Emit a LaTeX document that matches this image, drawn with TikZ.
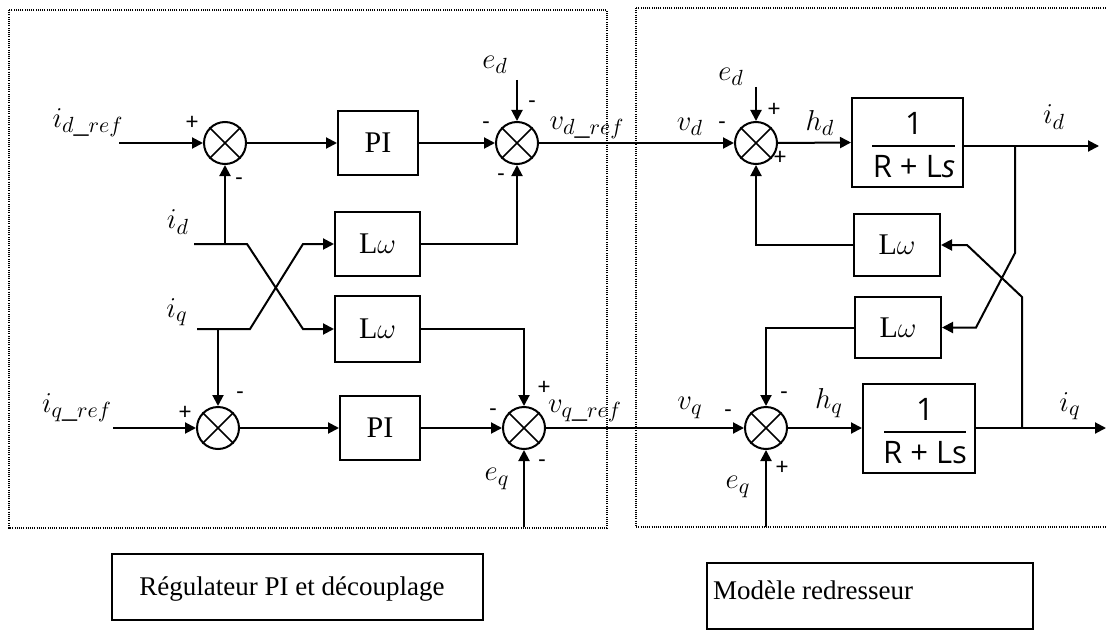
\documentclass[tikz,border=0pt]{standalone}
\usepackage{fontspec}
\setmainfont{Liberation Serif}
\newfontfamily\signfont{Carlito}
\newfontfamily\tffont{Open Sans}
\usetikzlibrary{arrows.meta,calc}
\begin{document}
\begin{tikzpicture}[x=0.5pt,y=-0.5pt,
  line width=1pt,
  >={Triangle[length=5.5pt,width=5.5pt]},
  sumj/.style={circle,draw,line width=1pt,minimum size=21pt,inner sep=0pt},
  blk/.style={draw,line width=1pt,inner sep=0pt,font=\fontsize{15}{17}\selectfont},
  tfbox/.style={draw,line width=1pt,inner sep=0pt,minimum width=56pt,minimum height=44.5pt},
  tftxt/.style={inner sep=0pt,font=\tffont\fontsize{15.5}{17}\selectfont},
  lbl/.style={inner sep=0pt,font=\fontsize{15}{17}\selectfont},
  sgn/.style={inner sep=0pt,font=\signfont\fontsize{12}{13}\selectfont},
  frame/.style={line width=1.1pt,dash pattern=on 0.55pt off 0.55pt},
  capbox/.style={draw,line width=1pt,inner sep=0pt,minimum height=33pt},
  captxt/.style={inner sep=0pt,font=\fontsize{13.5}{16}\selectfont}
]
\useasboundingbox (0,0) rectangle (1107,631);

% dotted frames
\draw[frame] (9,10) rectangle (607,528);
\draw[frame] (636,8) rectangle (1112,527);

% summing junctions
\node[sumj] (s1) at (225,143) {};
\node[sumj] (s2) at (517,143) {};
\node[sumj] (s3) at (756,143) {};
\node[sumj] (s4) at (766,428) {};
\node[sumj] (s5) at (524,428) {};
\node[sumj] (s6) at (218,428) {};
\foreach \n in {s1,s2,s3,s4,s5,s6}{
  \draw[line width=0.8pt] (\n.45) -- (\n.225) (\n.135) -- (\n.315);
}

% blocks
\node[blk,minimum width=40pt,minimum height=31.5pt] (pi1) at (378,143) {PI};
\node[blk,minimum width=40pt,minimum height=32pt] (pi2) at (380,428) {PI};
\node[blk,minimum width=42.5pt,minimum height=32pt] (lw1) at (377.5,244) {L$\omega$};
\node[blk,minimum width=42.5pt,minimum height=33pt] (lw2) at (377.5,329) {L$\omega$};
\node[blk,minimum width=43pt,minimum height=31pt] (lw3) at (897,245) {L$\omega$};
\node[blk,minimum width=43pt,minimum height=30.5pt] (lw4) at (898,327.5) {L$\omega$};

\node[tfbox,minimum width=55.5pt] (tf1) at (907.5,142.5) {};
\node[tftxt] (tf1n) at (914,123) {1};
\draw (872,146) -- (955,146);
\node[tftxt] (tf1d) at (914,167) {R + L\textit{s}};
\node[tfbox] (tf2) at (919,428) {};
\node[tftxt] (tf2n) at (925,409) {1};
\draw (884,432) -- (966,432);
\node[tftxt] (tf2d) at (925,453) {R + Ls};

% free ends
\coordinate (idref) at (119,143);
\coordinate (iqref) at (113,428);
\coordinate (idin) at (194,244);
\coordinate (iqin) at (197,329);
\coordinate (ed1) at (517,80);
\coordinate (eq1) at (524,527);
\coordinate (ed2) at (756,87);
\coordinate (eq2) at (766,527);
\coordinate (idout) at (1099,146);
\coordinate (iqout) at (1106,428);
\coordinate (jd) at (1015,146);
\coordinate (jq) at (1022,428);

% connectors (left)
\draw[->] (idref) -- (s1.west);
\draw[->] (s1.east) -- (pi1.west);
\draw[->] (pi1.east) -- (s2.west);
\draw[->] (ed1) -- (s2.north);
\draw[->] (lw1.east) -| (s2.south);
\draw[->] (idin) -- (247,244) -- (303,329) -- (lw2.west);
\draw[->] (iqin) -- (250,329) -- (303,244) -- (lw1.west);
\draw[->] (s1.south |- idin) -- (s1.south);
\draw[->] (s6.north |- iqin) -- (s6.north);
\draw[->] (iqref) -- (s6.west);
\draw[->] (s6.east) -- (pi2.west);
\draw[->] (pi2.east) -- (s5.west);
\draw[->] (lw2.east) -| (s5.north);
\draw[->] (eq1) -- (s5.south);

% connectors (middle / right)
\draw[->] (s2.east) -- (s3.west);
\draw[->] (s5.east) -- (s4.west);
\draw[->] (ed2) -- (s3.north);
\draw[->] (s3.east) -- (tf1.west);
\draw[->] ($(tf1.east)+(0,3.5)$) -- (idout);
\draw[->] (jd) -- (1015,253) -- (976,327.5) -- (lw4.east);
\draw[->] (jq) -- (1022,297) -- (967,245) -- (lw3.east);
\draw[->] (lw3.west) -| (s3.south);
\draw[->] (lw4.west) -| (s4.north);
\draw[->] (eq2) -- (s4.south);
\draw[->] (s4.east) -- (tf2.west);
\draw[->] (tf2.east) -- (iqout);

% signal labels
\node[lbl] (l1) at (88,123) {$i_{d\_ref}$};
\node[lbl] (l2) at (178,222) {$i_d$};
\node[lbl] (l3) at (177,312) {$i_q$};
\node[lbl] (l4) at (77,408) {$i_{q\_ref}$};
\node[lbl] (l5) at (495,65) {$e_d$};
\node[lbl] (l6) at (731,77) {$e_d$};
\node[lbl] (l7) at (587,128) {$v_{d\_ref}$};
\node[lbl] (l8) at (690,127) {$v_d$};
\node[lbl] (l9) at (820,123) {$h_d$};
\node[lbl] (l10) at (1054,117) {$i_d$};
\node[lbl] (l11) at (585,411) {$v_{q\_ref}$};
\node[lbl] (l12) at (690,408) {$v_q$};
\node[lbl] (l13) at (829,403) {$h_q$};
\node[lbl] (l14) at (1070,406) {$i_q$};
\node[lbl] (l15) at (497,479) {$e_q$};
\node[lbl] (l16) at (738,487) {$e_q$};

% signs
\node[sgn] (g1) at (192,123) {+};
\node[sgn] (g2) at (239,182) {-};
\node[sgn] (g3) at (532,105) {-};
\node[sgn] (g4) at (486,126) {-};
\node[sgn] (g5) at (501,178) {-};
\node[sgn] (g6) at (722,126) {-};
\node[sgn] (g7) at (774,110) {+};
\node[sgn] (g8) at (780,158) {+};
\node[sgn] (g9) at (784,396) {-};
\node[sgn] (g10) at (728,414) {-};
\node[sgn] (g11) at (782,468) {+};
\node[sgn] (g12) at (544,388) {+};
\node[sgn] (g13) at (493,413) {-};
\node[sgn] (g14) at (542,464) {-};
\node[sgn] (g15) at (240,396) {-};
\node[sgn] (g16) at (185,413) {+};

% captions
\node[capbox,minimum width=185.5pt] (cap1) at (297.5,587) {};
\node[captxt] (cap1t) at (292,589) {Régulateur PI et découplage};
\node[capbox,minimum width=163pt] (cap2) at (870,596) {};
\node[captxt,anchor=west] (cap2t) at (712,590) {Modèle redresseur};
\end{tikzpicture}
\end{document}
